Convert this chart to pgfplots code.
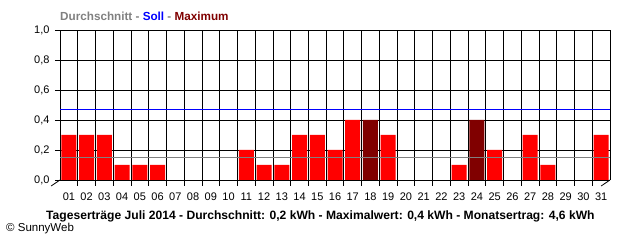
\documentclass[border=0pt]{standalone}
\usepackage{fontspec}
\setmainfont{Liberation Sans}
\usepackage{pgfplots}
\pgfplotsset{compat=1.18}
\definecolor{barred}{HTML}{FF0000}
\definecolor{bardark}{HTML}{800000}
\definecolor{avggray}{HTML}{808080}
\definecolor{sollblue}{HTML}{0000FF}
\begin{document}
\begin{tikzpicture}[x=1pt,y=1pt]
\path[use as bounding box, fill=white] (0,0) rectangle (640,240);
\begin{axis}[
  at={(60pt,60pt)}, anchor=south west,
  width=550pt, height=150pt, scale only axis,
  xmin=0.5, xmax=31.5, ymin=0, ymax=1,
  xtick={1,...,31},
  xticklabels={01,02,03,04,05,06,07,08,09,10,11,12,13,14,15,16,17,18,19,20,21,22,23,24,25,26,27,28,29,30,31},
  minor x tick num=1,
  major x tick style={draw=none},
  ytick={0,0.2,0.4,0.6,0.8,1},
  yticklabel style={/pgf/number format/use comma, /pgf/number format/fixed, /pgf/number format/fixed zerofill, /pgf/number format/precision=1, xshift=-2pt},
  /pgf/number format/assume math mode=true,
  tick align=outside,
  major tick length=5pt,
  minor tick length=6pt,
  ytick style={line width=0.8pt, black},
  minor x tick style={line width=0.8pt, black},
  xmajorgrids=false, xminorgrids=true, ymajorgrids=true,
  grid style={line width=0.8pt, black},
  minor grid style={line width=0.8pt, black},
  axis line style={line width=0.8pt, black},
  tick label style={font=\fontsize{11}{13}\selectfont},
  xticklabel style={yshift=-4pt},
  axis x line*=bottom, axis y line*=left,
  clip=false,
]
\draw[line width=0.8pt] (axis cs:0.5,1) -- (axis cs:31.5,1) -- (axis cs:31.5,0);
\draw[line width=0.8pt] (axis cs:0.5,0) -- ++(0,-6pt);
\draw[line width=0.8pt] (axis cs:31.5,0) -- ++(0,-6pt);
\addplot[ybar, bar width=15pt, bar shift=0pt, fill=barred, draw=none] coordinates {
(1,0.3) (2,0.3) (3,0.3) (4,0.1) (5,0.1) (6,0.1)
(11,0.2) (12,0.1) (13,0.1) (14,0.3) (15,0.3) (16,0.2) (17,0.4)
(19,0.3) (23,0.1) (25,0.2) (27,0.3) (28,0.1) (31,0.3)};
\addplot[ybar, bar width=15pt, bar shift=0pt, fill=bardark, draw=none] coordinates {
(18,0.4) (24,0.4)};
\addplot[sollblue, line width=0.9pt] coordinates {(0.5,0.473) (31.5,0.473)};
\addplot[avggray, line width=0.9pt] coordinates {(0.5,0.151) (31.5,0.151)};
\end{axis}
\node[anchor=base west, inner sep=0pt, font=\fontsize{11.7}{13}\selectfont\bfseries] at (60,219.5)
  {\textcolor{avggray}{Durchschnitt -} \textcolor{sollblue}{Soll} \textcolor{avggray}{-} \textcolor{bardark}{Maximum}};
\node[anchor=base west, inner sep=0pt, font=\fontsize{12.1}{14}\selectfont\bfseries] at (46,20)
  {Tageserträge Juli 2014 - Durchschnitt: 0,2 kWh - Maximalwert: 0,4 kWh - Monatsertrag: 4,6 kWh};
\node[anchor=base west, inner sep=0pt, font=\fontsize{11.5}{13}\selectfont] at (6,8)
  {© SunnyWeb};
\end{tikzpicture}
\end{document}
